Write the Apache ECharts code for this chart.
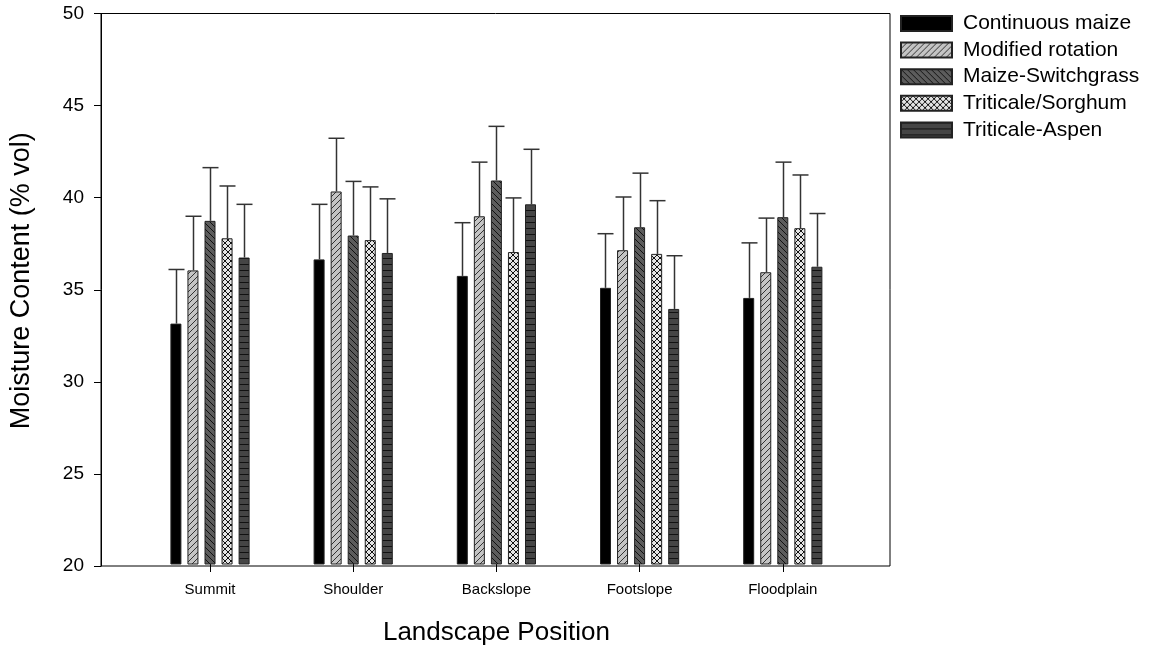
<!DOCTYPE html>
<html>
<head>
<meta charset="utf-8">
<script src="https://cdn.jsdelivr.net/npm/echarts@6/dist/echarts.min.js"></script>
<style>html,body{margin:0;padding:0;background:#fff}#c{width:1149px;height:651px}</style>
</head>
<body>
<div id="c"></div>
<script>
const categories = ['Summit', 'Shoulder', 'Backslope', 'Footslope', 'Floodplain'];
const seriesNames = ['Continuous maize', 'Modified rotation', 'Maize-Switchgrass', 'Triticale/Sorghum', 'Triticale-Aspen'];
const continuousMaize = [33.1, 36.6, 35.7, 35.05, 34.5];
const modifiedRotation = [36.0, 40.3, 38.95, 37.1, 35.9];
const maizeSwitchgrass = [38.7, 37.9, 40.9, 38.35, 38.9];
const triticaleSorghum = [37.75, 37.65, 37.0, 36.9, 38.3];
const triticaleAspen = [36.7, 36.95, 39.6, 33.9, 36.2];
const errContinuousMaize = [2.95, 3.0, 2.9, 2.95, 3.0];
const errModifiedRotation = [2.95, 2.9, 2.95, 2.9, 2.95];
const errMaizeSwitchgrass = [2.9, 2.95, 2.95, 2.95, 3.0];
const errTriticaleSorghum = [2.85, 2.9, 2.95, 2.9, 2.9];
const errTriticaleAspen = [2.9, 2.95, 3.0, 2.9, 2.9];
const yTicks = [20, 25, 30, 35, 40, 45, 50];

const values = [continuousMaize, modifiedRotation, maizeSwitchgrass, triticaleSorghum, triticaleAspen];
const errors = [errContinuousMaize, errModifiedRotation, errMaizeSwitchgrass, errTriticaleSorghum, errTriticaleAspen];

function pattern(bg, draw) {
  const s = 6;
  const c = document.createElement('canvas');
  c.width = s; c.height = s;
  const ctx = c.getContext('2d');
  ctx.fillStyle = bg; ctx.fillRect(0, 0, s, s);
  ctx.strokeStyle = '#111'; ctx.lineWidth = 1;
  draw(ctx, s);
  return { image: c, repeat: 'repeat' };
}
function line(ctx, a, b, c2, d) { ctx.beginPath(); ctx.moveTo(a, b); ctx.lineTo(c2, d); ctx.stroke(); }
const fills = [
  '#000000',
  pattern('#c4c4c4', (ctx, s) => { ctx.strokeStyle = '#333'; line(ctx, -1, s + 1, s + 1, -1); line(ctx, -1, 1, 1, -1); line(ctx, s - 1, s + 1, s + 1, s - 1); }),
  pattern('#5c5c5c', (ctx, s) => { line(ctx, -1, -1, s + 1, s + 1); line(ctx, -1, s - 1, 1, s + 1); line(ctx, s - 1, -1, s + 1, 1); }),
  pattern('#e4e4e4', (ctx, s) => { line(ctx, -1, -1, s + 1, s + 1); line(ctx, -1, s + 1, s + 1, -1); }),
  pattern('#454545', (ctx, s) => { line(ctx, 0, 0.5, s, 0.5); })
];

const barWidth = 11;
const barGapRatio = 0.55;
const pitch = barWidth * (1 + barGapRatio);

const series = [];
seriesNames.forEach((name, i) => {
  series.push({
    name: name,
    type: 'bar',
    xAxisIndex: 0, yAxisIndex: 0,
    barWidth: barWidth,
    barGap: (barGapRatio * 100) + '%',
    data: values[i],
    itemStyle: { color: fills[i], borderColor: '#222', borderWidth: 1 },
    z: 3
  });
});
seriesNames.forEach((name, i) => {
  series.push({
    type: 'custom',
    xAxisIndex: 0, yAxisIndex: 0,
    silent: true,
    z: 4,
    data: values[i].map((v, k) => [k, v, v + errors[i][k]]),
    renderItem: function (params, api) {
      const p0 = api.coord([api.value(0), api.value(1)]);
      const p1 = api.coord([api.value(0), api.value(2)]);
      const x = Math.round(p0[0] + (i - 2) * pitch) + 0.5;
      const st = { stroke: '#333', lineWidth: 1.5 };
      return {
        type: 'group',
        children: [
          { type: 'line', shape: { x1: x, y1: p0[1], x2: x, y2: p1[1] }, style: st },
          { type: 'line', shape: { x1: x - 8, y1: p1[1], x2: x + 8, y2: p1[1] }, style: st }
        ]
      };
    }
  });
});

const font = 'Liberation Sans, Arial, sans-serif';
const option = {
  animation: false,
  backgroundColor: '#fff',
  textStyle: { fontFamily: font, color: '#000' },
  legend: {
    data: seriesNames,
    icon: 'rect',
    orient: 'vertical',
    left: 900, top: 13,
    padding: 0,
    itemWidth: 51, itemHeight: 15, itemGap: 5.6,
    textStyle: { fontSize: 21, color: '#000', fontFamily: font, padding: [0, 0, 0, 6] }
  },
  grid: [
    { left: 138.4, right: 1149 - 854.4, top: 13.5, bottom: 85 },
    { left: 101, right: 1149 - 890, top: 13.5, bottom: 85, show: true, borderColor: '#000', borderWidth: 1, backgroundColor: 'transparent' }
  ],
  xAxis: [
    {
      type: 'category', gridIndex: 0, data: categories,
      boundaryGap: true,
      axisLine: { show: false },
      axisTick: { show: true, alignWithLabel: true, length: 8, lineStyle: { color: '#000' } },
      axisLabel: { fontSize: 15, color: '#000', margin: 18, fontFamily: font },
      name: 'Landscape Position', nameLocation: 'middle', nameGap: 56,
      nameTextStyle: { fontSize: 26, color: '#000', fontFamily: font }
    },
    { type: 'value', gridIndex: 1, show: false, min: 0, max: 1 }
  ],
  yAxis: [
    { type: 'value', gridIndex: 0, min: 20, max: 50, interval: 5, show: false },
    {
      type: 'value', gridIndex: 1, min: yTicks[0], max: yTicks[yTicks.length - 1], interval: 5,
      axisLine: { show: true, lineStyle: { color: '#000' } },
      axisTick: { show: true, inside: false, length: 7, lineStyle: { color: '#000' } },
      splitLine: { show: false },
      axisLabel: { fontSize: 19, color: '#000', margin: 17, fontFamily: font },
      name: 'Moisture Content (% vol)', nameLocation: 'middle', nameGap: 66,
      nameTextStyle: { fontSize: 27, color: '#000', fontFamily: font, padding: [0, 0, 0, 18] }
    }
  ],
  series: series
};
const chart = echarts.init(document.getElementById('c'));
chart.setOption(option);
</script>
</body>
</html>
